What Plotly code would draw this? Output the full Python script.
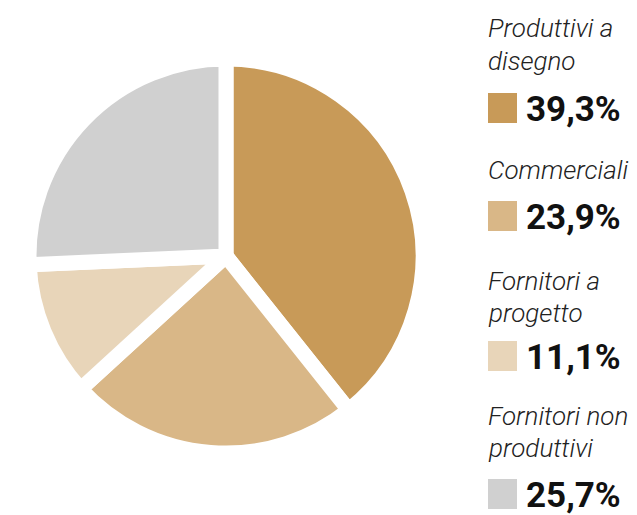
import plotly.graph_objects as go

W, H = 637, 515
OFF = 8  # default page margin of the browser

categories = ["Produttivi a disegno", "Commerciali", "Fornitori a progetto", "Fornitori non produttivi"]
label_lines = [["Produttivi a", "disegno"], ["Commerciali"], ["Fornitori a", "progetto"], ["Fornitori non", "produttivi"]]
values = [39.3, 23.9, 11.1, 25.7]
value_text = ["39,3%", "23,9%", "11,1%", "25,7%"]
colors = ["#C89A58", "#D9B787", "#E8D5B9", "#D0D0D0"]

cx, cy, r = 226 - OFF, 256 - OFF, 197

fig = go.Figure(go.Pie(
    labels=categories, values=values, sort=False, direction="clockwise", rotation=0,
    marker=dict(colors=colors, line=dict(color="white", width=15)),
    textinfo="none", hoverinfo="label+percent", showlegend=False,
    domain=dict(x=[(cx - r) / W, (cx + r) / W], y=[(H - cy - r) / H, (H - cy + r) / H]),
))

def px(x):
    return (x - OFF) / W

def py(y):
    return 1 - (y - OFF) / H

# legend layout (pixel baselines in the page)
label_baselines = [[37, 70], [179], [290, 322], [425, 457]]
pct_baselines = [122, 230, 370, 508]
LAB = 26
PCT = 35
annotations = []
shapes = []
for i in range(len(categories)):
    for line, b in zip(label_lines[i], label_baselines[i]):
        annotations.append(dict(
            x=px(486), y=py(b - 0.36 * LAB), xref="paper", yref="paper",
            xanchor="left", yanchor="middle", text=line, showarrow=False,
            font=dict(family="Roboto", size=LAB, color="#222222", style="italic", weight=300),
        ))
    b = pct_baselines[i]
    annotations.append(dict(
        x=px(524), y=py(b - 0.36 * PCT), xref="paper", yref="paper",
        xanchor="left", yanchor="middle", text=value_text[i], showarrow=False,
        font=dict(family="Roboto", size=PCT, color="#111111", weight=700),
    ))
    shapes.append(dict(
        type="rect", xref="paper", yref="paper",
        x0=px(488), x1=px(517), y0=py(b + 1), y1=py(b - 29),
        fillcolor=colors[i], line=dict(width=0),
    ))

fig.update_layout(
    width=W, height=H, margin=dict(l=0, r=0, t=0, b=0),
    paper_bgcolor="white", plot_bgcolor="white",
    annotations=annotations, shapes=shapes,
)
fig.write_html("out.html")
